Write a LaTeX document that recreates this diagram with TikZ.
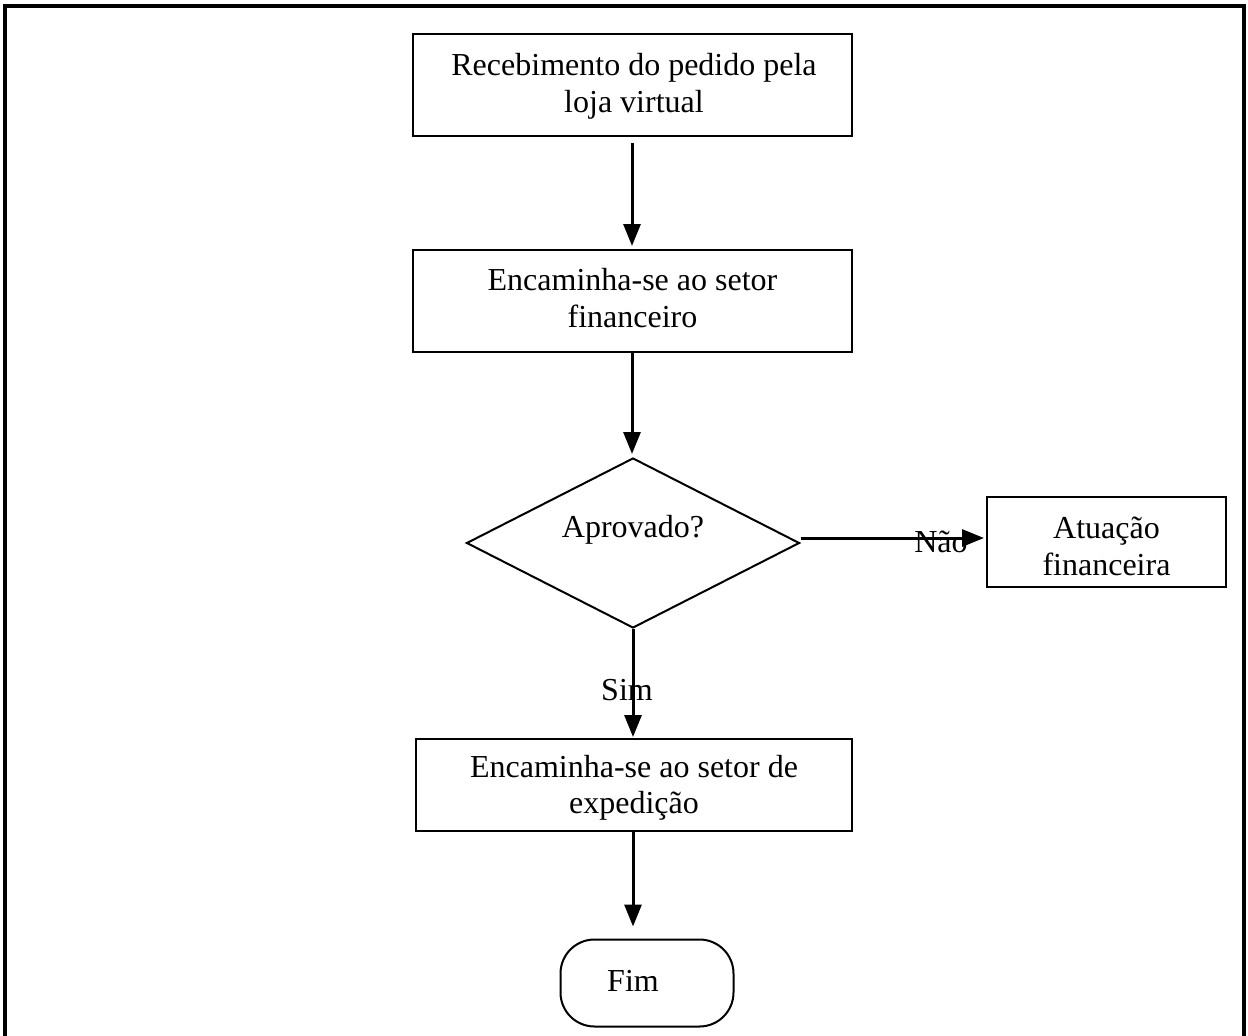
\documentclass[tikz,border=0pt]{standalone}
\usepackage{fontspec}
\setmainfont{Liberation Serif}
\usetikzlibrary{arrows.meta,shapes.geometric}
\begin{document}
\begin{tikzpicture}[x=1pt,y=-1pt,
  every node/.style={font=\fontsize{32}{37}\selectfont},
  procbox/.style={draw,line width=2pt,inner sep=0pt},
  decision/.style={draw,diamond,line width=2pt,inner sep=0pt},
  terminal/.style={draw,rounded corners=34pt,line width=2pt,inner sep=0pt},
  flow/.style={line width=3pt,-{Triangle[length=22pt,width=17pt]}},
  tag/.style={inner sep=0pt,anchor=base}]
\useasboundingbox (0,0) rectangle (1248,1036);
% outer frame (open at the bottom)
\draw[line width=3.5pt] (5,1036) -- (5,6) -- (1244,6) -- (1244,1036);

% shapes
\node[procbox,minimum width=439pt,minimum height=102pt] (recv) at (632.5,85) {};
\node[procbox,minimum width=439pt,minimum height=102pt] (fin) at (632.5,301) {};
\node[decision,minimum width=333pt,minimum height=170pt] (ok) at (633,543) {};
\node[procbox,minimum width=239pt,minimum height=90pt] (act) at (1106.5,542) {};
\node[procbox,minimum width=436pt,minimum height=92pt] (exp) at (634,785) {};
\node[terminal,minimum width=173pt,minimum height=87pt] (end) at (647,983) {};

% texts, one node per printed line, placed on its baseline
\node[tag] (recvt) at (634,75) {Recebimento do pedido pela};
\node[tag] (recvu) at (634,112) {loja virtual};
\node[tag] (fint) at (632.5,290) {Encaminha-se ao setor};
\node[tag] (finu) at (632.5,327) {financeiro};
\node[tag] (okt) at (633,537) {Aprovado?};
\node[tag] (actt) at (1106.5,538) {Atuação};
\node[tag] (actu) at (1106.5,575) {financeira};
\node[tag] (expt) at (634,777) {Encaminha-se ao setor de};
\node[tag] (expu) at (634,813) {expedição};
\node[tag] (endt) at (633,991) {Fim};

% connectors (canvas yshift points up)
\draw[flow,shorten <=6pt,shorten >=3pt] (recv.south -| 632,0) -- (fin.north -| 632,0);
\draw[flow,shorten >=3pt] (fin.south -| 632,0) -- (ok.north -| 632,0);
\draw[flow,shorten >=2pt] ([yshift=5pt]ok.east) -- ([yshift=5pt]ok.east -| act.west);
\draw[flow,shorten >=1pt] (ok.south -| 633,0) -- (exp.north -| 633,0);
\draw[flow,shorten >=12pt] (exp.south -| 633,0) -- (end.north -| 633,0);

% branch labels
\node[tag] (no) at (941,552) {Não};
\node[tag] (yes) at (627,700) {Sim};
\end{tikzpicture}
\end{document}
